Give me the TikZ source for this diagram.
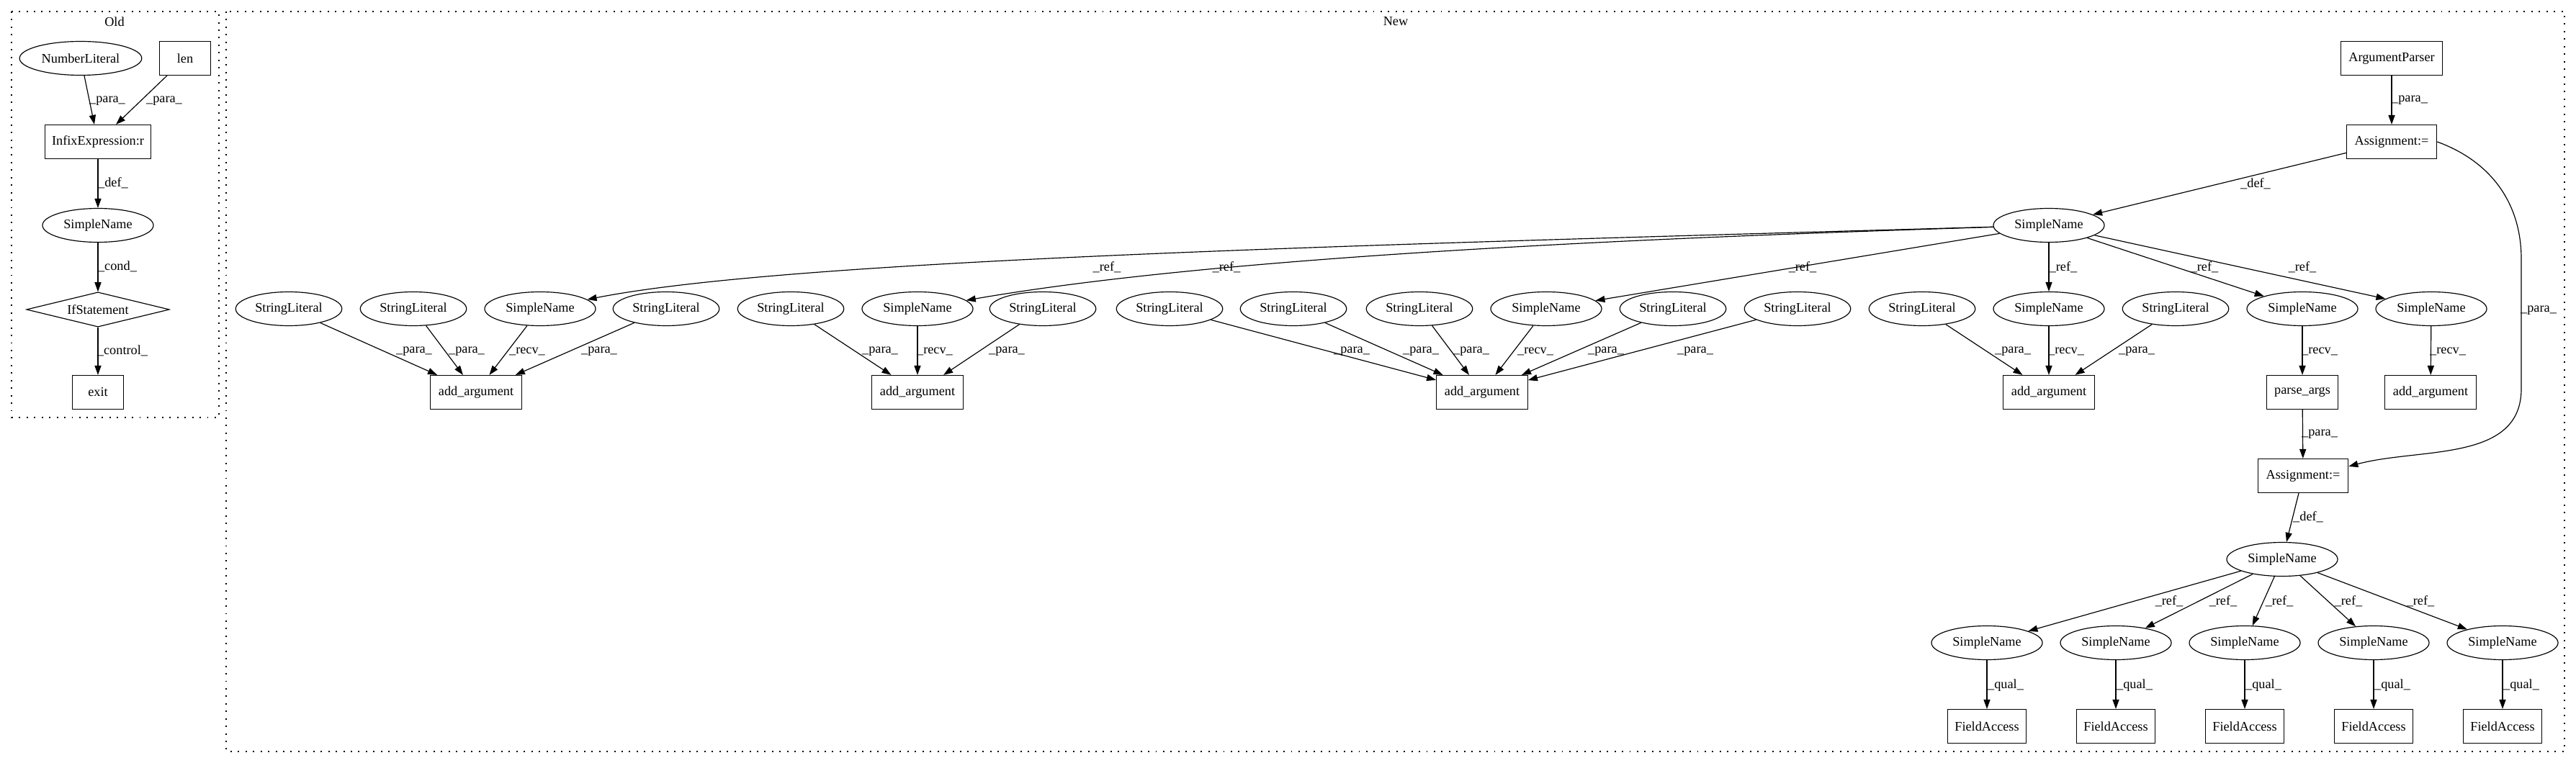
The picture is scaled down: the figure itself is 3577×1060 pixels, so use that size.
\documentclass[tikz,border=0pt]{standalone}
\usepackage{fontspec}
\setmainfont{Liberation Serif}
\usetikzlibrary{arrows.meta, shapes.geometric}
\def\namerow{429}
\def\callrow{545}

\begin{document}
\begin{tikzpicture}[->, >={Triangle[length=10pt,width=7pt]}, x=0.766pt, y=-0.766pt, line width=0.9pt, font=\fontsize{14pt}{16pt}\selectfont]
    \tikzstyle{literal}=[ellipse, draw=black, minimum width=113pt, minimum height=36pt, inner sep=0pt]
    \tikzstyle{simple}=[literal, minimum width=118pt]
    \tikzstyle{call}=[rectangle, draw=black, minimum width=97pt, minimum height=36pt, inner sep=0pt]
    \tikzstyle{test}=[diamond, aspect=4, draw=black, minimum width=152pt, minimum height=37pt, inner sep=0pt]
    \tikzstyle{annot}=[inner sep=0pt]
    \tikzstyle{cluster}=[-, draw=black, dash pattern=on 1.5pt off 6.5pt]

    \useasboundingbox (0,0) rectangle (3577,1060);

%   Old
    \draw[cluster] (16,16) rectangle (304,580);
    \node[annot] (old) at (159,30) {Old};
    \node[literal, minimum width=130pt] (NL) at (112,81) {NumberLiteral};
    \node[call, minimum width=55pt] (LEN) at (257,81) {len};
    \node[call, minimum width=113pt] (IE) at (136,197) {InfixExpression:r};
    \node[simple] (SO) at (136,313) {SimpleName};
    \node[test] (IF) at (136,430) {IfStatement};
    \node[call, minimum width=55pt] (EX) at (136,545) {exit};
    \path (NL) edge (IE);
    \path (LEN) edge (IE);
    \path (IE) edge (SO);
    \path (SO) edge (IF);
    \path (IF) edge (EX);
    \node[annot] (o-1) at (149,140) {\_para\_};
    \node[annot] (o-2) at (228,140) {\_para\_};
    \node[annot] (o-3) at (157,254) {\_def\_};
    \node[annot] (o-4) at (163,370) {\_cond\_};
    \node[annot] (o-5) at (170,487) {\_control\_};

%   New
    \draw[cluster] (314,16) rectangle (3561,1044);
    \node[annot] (new) at (1938,30) {New};
    \node[call, minimum width=108pt] (AP) at (3321,81) {ArgumentParser};
    \node[call, minimum width=96pt] (AS-1) at (3321,197) {Assignment:=};
    \node[simple] (N-0) at (2845,313) {SimpleName};
    \path (AP) edge (AS-1);
    \path (AS-1) edge (N-0);
    \node[annot] (a-1) at (3346,139) {\_para\_};
    \node[annot] (a-2) at (3132,255) {\_def\_};

    \foreach \n/\x in {1/661, 2/1274, 3/2058, 4/2845, 6/3375}
        \node[call] (K-\n) at (\x,\callrow) {add\_argument};
    \node[call, minimum width=76pt] (K-5) at (3197,\callrow) {parse\_args};

    \foreach \n/\x/\rx/\vx in {1/750/1537/732, 2/1274/1703/1298, 3/2147/2503/2132, 4/2845/2865/2869, 5/3197/3061/3221, 6/3376/3197/3399}{
        \node[simple] (N-\n) at (\x,\namerow) {SimpleName};
        \path (N-\n) edge (K-\n);
        \node[annot] (r-\n) at (\rx,371) {\_ref\_};
        \node[annot] (v-\n) at (\vx,488) {\_recv\_};
    }
    \draw (N-0) .. controls (1900,340) and (1100,360) .. (N-1);
    \draw (N-0) .. controls (2300,330) and (1700,355) .. (N-2);
    \foreach \n in {3,4,5,6}
        \path (N-0) edge (N-\n);

    \foreach \n/\x/\k/\lx in {1/401/1/575, 2/574/1/648, 3/925/1/832, 4/1098/2/1222, 5/1448/2/1398, 6/1624/3/1877, 7/1796/3/1973, 8/1971/3/2043, 9/2323/3/2230, 10/2496/3/2354, 11/2669/4/2795, 12/3021/4/2967}{
        \node[literal] (L-\n) at (\x,\namerow) {StringLiteral};
        \path (L-\n) edge (K-\k);
        \node[annot] (p-\n) at (\lx,488) {\_para\_};
    }

    \node[call, minimum width=96pt] (AS-2) at (3198,661) {Assignment:=};
    \draw (AS-1.east) to[out=-20, in=90] (3501,360) -- (3501,540) to[out=-90, in=15] ([yshift=10pt]AS-2.east);
    \node[annot] (a-3) at (3525,431) {\_para\_};
    \path (K-5) edge (AS-2);
    \node[annot] (a-4) at (3221,603) {\_para\_};

    \node[simple] (M) at (3169,777) {SimpleName};
    \path (AS-2) edge (M);
    \node[annot] (a-5) at (3205,718) {\_def\_};

    \foreach \n/\x/\rx in {1/2759/3012, 2/2938/3087, 3/3117/3165, 4/3296/3261, 5/3475/3361}{
        \node[simple] (Q-\n) at (\x,893) {SimpleName};
        \node[call, minimum width=84pt] (F-\n) at (\x,1009) {FieldAccess};
        \path (M) edge (Q-\n);
        \path (Q-\n) edge (F-\n);
        \node[annot] (s-\n) at (\rx,835) {\_ref\_};
        \node[annot] (q-\n) at (\x+26,952) {\_qual\_};
    }
\end{tikzpicture}
\end{document}
